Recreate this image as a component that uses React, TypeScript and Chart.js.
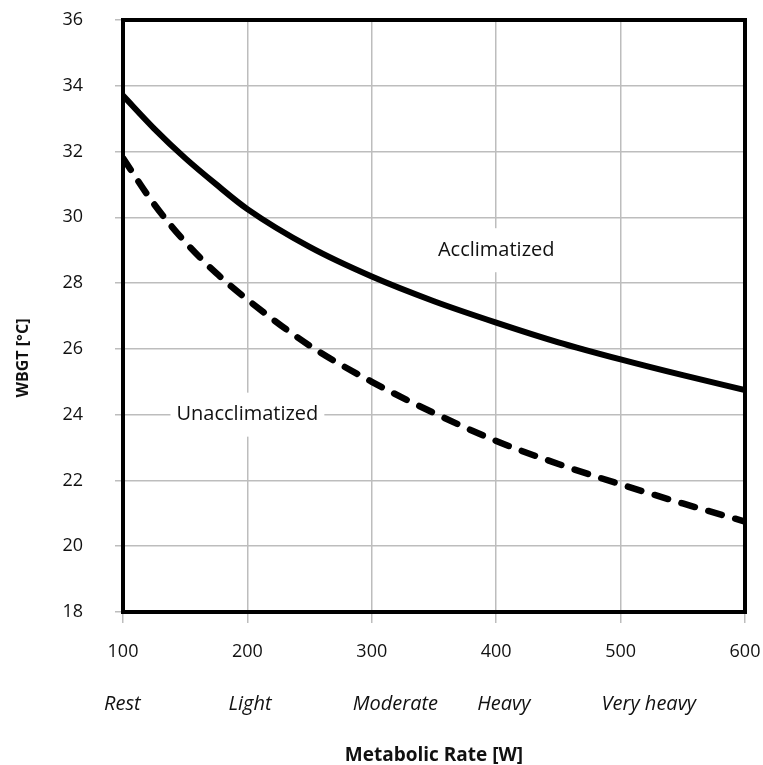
import React, { useEffect, useRef } from "react";
import { Chart, registerables } from "chart.js";

Chart.register(...registerables);

const metabolicRate = [100, 125, 150, 175, 200, 250, 300, 350, 400, 450, 500, 550, 600];
const acclimatized = [33.7, 32.7, 31.8, 31.0, 30.25, 29.1, 28.2, 27.45, 26.8, 26.2, 25.68, 25.2, 24.75];
const unacclimatized = [31.8, 30.4, 29.25, 28.3, 27.5, 26.1, 25.0, 24.05, 23.2, 22.5, 21.88, 21.3, 20.75];

const intensityValues = [100, 200, 300, 400, 500];
const intensityLabels = ["Rest", "Light", "Moderate", "Heavy", "Very heavy"];

const noteTexts = ["Acclimatized", "Unacclimatized"];
const noteX = [400, 200];
const noteY = [29, 24];

const FONT = '"Open Sans", "Noto Sans", sans-serif';

const overlayPlugin = {
  id: "overlay",
  beforeDatasetsDraw(chart: any) {
    const { ctx, scales } = chart;
    const x = scales.x;
    const y = scales.y;
    ctx.save();
    ctx.font = `20px ${FONT}`;
    ctx.textAlign = "center";
    ctx.textBaseline = "middle";
    noteTexts.forEach((t, i) => {
      const px = x.getPixelForValue(noteX[i]);
      const py = y.getPixelForValue(noteY[i]);
      const w = ctx.measureText(t).width;
      ctx.fillStyle = "#ffffff";
      ctx.fillRect(px - w / 2 - 6, py - 22, w + 12, 44);
      ctx.fillStyle = "#111111";
      ctx.fillText(t, px, py);
    });
    ctx.restore();
  },
  afterDatasetsDraw(chart: any) {
    const { ctx, chartArea } = chart;
    ctx.save();
    ctx.strokeStyle = "#000000";
    ctx.lineWidth = 4;
    ctx.strokeRect(chartArea.left, chartArea.top, chartArea.right - chartArea.left, chartArea.bottom - chartArea.top);
    ctx.restore();
  },
  afterDraw(chart: any) {
    const { ctx, scales } = chart;
    const x = scales.x;
    ctx.save();
    ctx.font = `italic 20px ${FONT}`;
    ctx.fillStyle = "#111111";
    ctx.textAlign = "left";
    ctx.textBaseline = "middle";
    intensityLabels.forEach((t, i) => {
      ctx.fillText(t, x.getPixelForValue(intensityValues[i]) - 19, 704);
    });
    ctx.font = `bold 16px ${FONT}`;
    ctx.textAlign = "center";
    ctx.translate(23, 358);
    ctx.rotate(-Math.PI / 2);
    ctx.fillText("WBGT [°C]", 0, 0);
    ctx.restore();
  },
};

export default function App() {
  const ref = useRef<HTMLCanvasElement | null>(null);
  useEffect(() => {
    if (!ref.current) return;
    const chart = new Chart(ref.current, {
      type: "line",
      data: {
        datasets: [
          {
            label: "Acclimatized",
            data: metabolicRate.map((m, i) => ({ x: m, y: acclimatized[i] })),
            borderColor: "#000000",
            borderWidth: 6,
            pointRadius: 0,
            cubicInterpolationMode: "monotone",
            fill: false,
          },
          {
            label: "Unacclimatized",
            data: metabolicRate.map((m, i) => ({ x: m, y: unacclimatized[i] })),
            borderColor: "#000000",
            borderWidth: 6.5,
            borderDash: [14, 14],
            borderCapStyle: "round",
            pointRadius: 0,
            cubicInterpolationMode: "monotone",
            fill: false,
          },
        ],
      },
      plugins: [overlayPlugin],
      options: {
        animation: false,
        responsive: false,
        maintainAspectRatio: false,
        layout: { padding: { left: 0, top: 20, right: 18, bottom: 0 } },
        plugins: { legend: { display: false }, tooltip: { enabled: false } },
        scales: {
          x: {
            type: "linear",
            min: 100,
            max: 600,
            ticks: { stepSize: 100, color: "#111111", font: { family: FONT, size: 18 }, padding: 18 },
            grid: { color: "#bdbdbd", lineWidth: 1.5, tickLength: 11 },
            border: { display: false },
            title: {
              display: true,
              text: "Metabolic Rate [W]",
              color: "#111111",
              font: { family: FONT, size: 19, weight: "bold" },
              padding: { top: 0, bottom: -2 },
            },
            afterFit(scale: any) {
              scale.height = 153;
              scale.paddingLeft = 0;
              scale.paddingRight = 0;
            },
          },
          y: {
            min: 18,
            max: 36,
            ticks: { stepSize: 2, color: "#111111", font: { family: FONT, size: 18 }, padding: 32 },
            grid: { color: "#bdbdbd", lineWidth: 1.5, tickLength: 8 },
            border: { display: false },
            afterFit(scale: any) {
              scale.width = 123;
              scale.paddingTop = 0;
              scale.paddingBottom = 0;
            },
          },
        },
      },
    } as any);
    return () => chart.destroy();
  }, []);
  return (
    <div style={{ position: "fixed", left: 0, top: 0, width: 763, height: 765, background: "#fff" }}>
      <canvas ref={ref} width={763} height={765} style={{ display: "block" }} />
    </div>
  );
}
